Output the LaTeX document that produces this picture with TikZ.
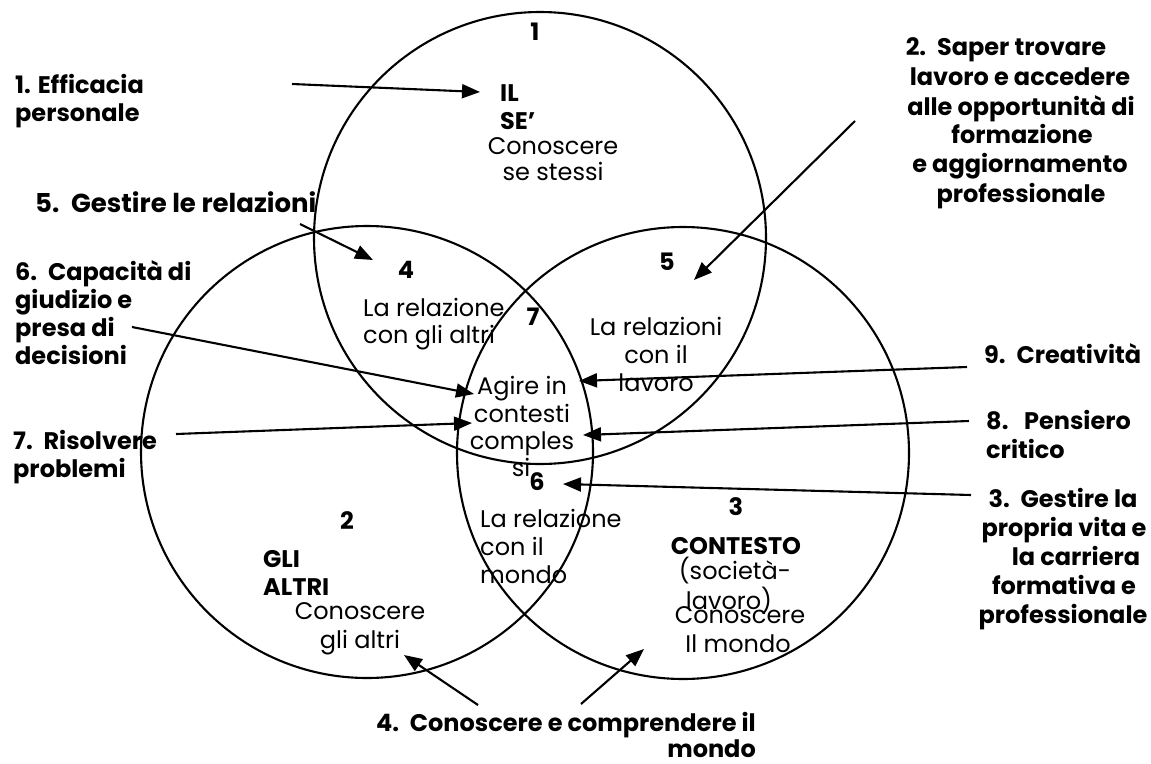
\documentclass[tikz,border=0pt]{standalone}
\usepackage{fontspec}
\setmainfont{Poppins}
\usetikzlibrary{arrows.meta}
\newcommand\lgap{\hspace{0.45em}}
\begin{document}
\begin{tikzpicture}[x=1pt,y=-1pt,
  circ/.style={circle, draw=black, line width=2.1pt, minimum size=452pt, inner sep=0pt},
  arr/.style={-{Triangle[length=18pt,width=14pt]}, line width=2.1pt},
  txt/.style={inner sep=0pt, font=\fontsize{24}{28}\selectfont},
  btxt/.style={inner sep=0pt, font=\fontsize{24}{28}\selectfont\bfseries},
]
\useasboundingbox (0,0) rectangle (1151,763);

% circles
\node[circ] (cself) at (540,238) {};
\node[circ] (cothers) at (367,452) {};
\node[circ] (ccontext) at (683,453) {};

% top circle
\node[btxt, anchor=base] (n1) at (535,40) {1};
\node[btxt, anchor=base west] (il) at (500,101) {IL};
\node[btxt, anchor=base west] (se) at (500,129) {SE’};
\node[txt, anchor=base] (cs1) at (553,154) {Conoscere};
\node[txt, anchor=base] (cs2) at (553,180) {se stessi};

% 4
\node[btxt, anchor=base] (n4) at (406,278) {4};
\node[txt, anchor=base west] (r4a) at (363,316) {La relazione};
\node[txt, anchor=base west] (r4b) at (363,343) {con gli altri};

% 7
\node[btxt, anchor=base] (n7) at (533,325) {7};

% 5
\node[btxt, anchor=base] (n5) at (667,270) {5};
\node[txt, anchor=base] (r5a) at (656,335) {La relazioni};
\node[txt, anchor=base] (r5b) at (656,363) {con il};
\node[txt, anchor=base] (r5c) at (656,391) {lavoro};

% centre
\node[txt, anchor=base] (ag1) at (522,394) {Agire in};
\node[txt, anchor=base] (ag2) at (522,422) {contesti};
\node[txt, anchor=base] (ag3) at (522,449) {comples};
\node[txt, anchor=base] (ag4) at (521,476) {si};

% 6
\node[btxt, anchor=base] (n6) at (537,490) {6};
\node[txt, anchor=base west] (r6a) at (480,527) {La relazione};
\node[txt, anchor=base west] (r6b) at (480,555) {con il};
\node[txt, anchor=base west] (r6c) at (480,583) {mondo};

% left circle
\node[btxt, anchor=base] (n2) at (347,529) {2};
\node[btxt, anchor=base west] (gli1) at (263,567) {GLI};
\node[btxt, anchor=base west] (gli2) at (263,595) {ALTRI};
\node[txt, anchor=base] (cg1) at (360,619) {Conoscere};
\node[txt, anchor=base] (cg2) at (360,648) {gli altri};

% right circle
\node[btxt, anchor=base] (n3) at (736,515) {3};
\node[btxt, anchor=base] (ct1) at (736,554) {CONTESTO};
\node[txt, anchor=base] (ct2) at (735,579) {(società-};
\node[txt, anchor=base] (ct3) at (729,609) {lavoro)};
\node[txt, anchor=base] (cm1) at (740,623) {Conoscere};
\node[txt, anchor=base] (cm2) at (738,652) {Il mondo};

% outside labels
\node[btxt, anchor=base west] (l1a) at (15,93) {1. Efficacia};
\node[btxt, anchor=base west] (l1b) at (15,121) {personale};
\node[btxt, anchor=base west, font=\fontsize{26}{30}\selectfont\bfseries] (l5) at (35,212) {5.\lgap Gestire le relazioni};
\node[btxt, anchor=base west] (l6a) at (15,280) {6.\lgap Capacità di};
\node[btxt, anchor=base west] (l6b) at (15,308) {giudizio e};
\node[btxt, anchor=base west] (l6c) at (15,336) {presa di};
\node[btxt, anchor=base west] (l6d) at (15,364) {decisioni};
\node[btxt, anchor=base west] (l7a) at (13,449) {7.\lgap Risolvere};
\node[btxt, anchor=base west] (l7b) at (13,477) {problemi};
\node[btxt, anchor=base east] (l4a) at (756,731) {4.\lgap Conoscere e comprendere il};
\node[btxt, anchor=base east] (l4b) at (756,757) {mondo};
\node[btxt, anchor=base] (l2a) at (1006,55) {2.\lgap Saper trovare};
\node[btxt, anchor=base] (l2b) at (1020,85) {lavoro e accedere};
\node[btxt, anchor=base] (l2c) at (1021,115) {alle opportunità di};
\node[btxt, anchor=base] (l2d) at (1022,143) {formazione};
\node[btxt, anchor=base] (l2e) at (1020,172) {e aggiornamento};
\node[btxt, anchor=base] (l2f) at (1021,202) {professionale};
\node[btxt, anchor=base west] (l9) at (984,363) {9.\lgap Creatività};
\node[btxt, anchor=base west] (l8a) at (986,429) {8.\hspace{0.65em}Pensiero};
\node[btxt, anchor=base west] (l8b) at (986,458) {critico};
\node[btxt, anchor=base] (l3a) at (1063,507) {3.\lgap Gestire la};
\node[btxt, anchor=base] (l3b) at (1064,536) {propria vita e};
\node[btxt, anchor=base] (l3c) at (1076,565) {la carriera};
\node[btxt, anchor=base] (l3d) at (1064,594) {formativa e};
\node[btxt, anchor=base] (l3e) at (1063,623) {professionale};

% arrow end points
\coordinate (a1s) at (292,84);  \coordinate (a1e) at (480,92);
\coordinate (a5s) at (300,224); \coordinate (a5e) at (373,260);
\coordinate (a2s) at (855,121); \coordinate (a2e) at (694,280);
\coordinate (a6s) at (132,327); \coordinate (a6e) at (474,394);
\coordinate (a7s) at (176,434); \coordinate (a7e) at (472,423);
\coordinate (a9s) at (967,367); \coordinate (a9e) at (579,381);
\coordinate (a8s) at (969,421); \coordinate (a8e) at (583,435);
\coordinate (a3s) at (971,495); \coordinate (a3e) at (563,484);
\coordinate (a4as) at (478,705); \coordinate (a4ae) at (404,655);
\coordinate (a4bs) at (581,704); \coordinate (a4be) at (644,649);

\draw[arr] (a1s) -- (a1e);
\draw[arr] (a5s) -- (a5e);
\draw[arr] (a2s) -- (a2e);
\draw[arr] (a6s) -- (a6e);
\draw[arr] (a7s) -- (a7e);
\draw[arr] (a9s) -- (a9e);
\draw[arr] (a8s) -- (a8e);
\draw[arr] (a3s) -- (a3e);
\draw[arr] (a4as) -- (a4ae);
\draw[arr] (a4bs) -- (a4be);
\end{tikzpicture}
\end{document}
